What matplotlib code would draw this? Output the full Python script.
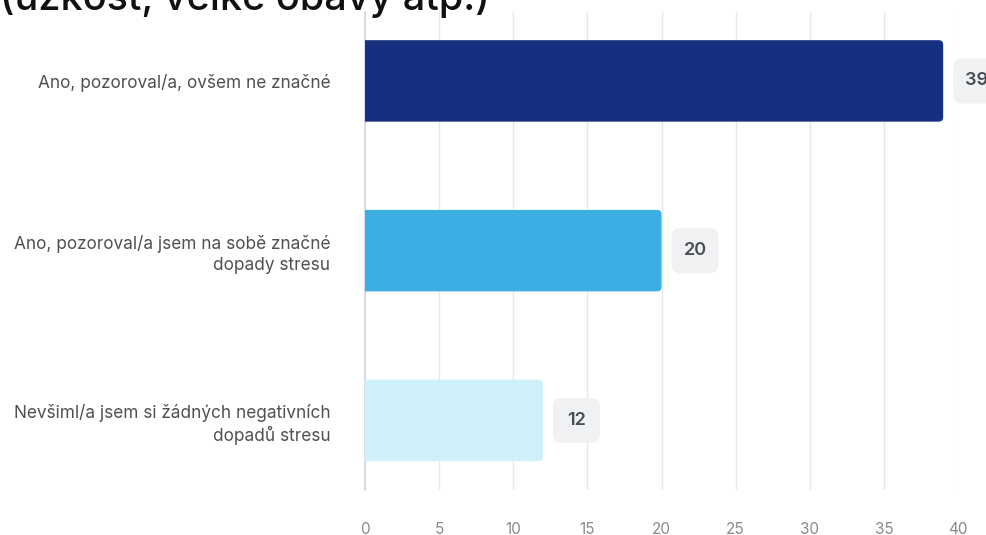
import matplotlib.pyplot as plt
from matplotlib.patches import FancyBboxPatch

plt.rcParams['font.family'] = ['Inter', 'DejaVu Sans']

# data
categories = [
    "Ano, pozoroval/a, ovšem ne značné",
    "Ano, pozoroval/a jsem na sobě značné\ndopady stresu",
    "Nevšiml/a jsem si žádných negativních\ndopadů stresu",
]
values = [39, 20, 12]
bar_colors = ["#14307f", "#3caee4", "#cdf0f9"]
xticks = [0, 5, 10, 15, 20, 25, 30, 35, 40]

fig = plt.figure(figsize=(9.86, 5.35), dpi=100)
ax = fig.add_axes([365 / 986, 1 - 490 / 535, (958 - 365) / 986, 478 / 535])

ax.set_xlim(0, 40)
ax.set_ylim(2.41, -0.406)

bar_h = 0.48
# pixels per data unit on each axis, for round corners
px_x = (958 - 365) / 40
px_y = 170
for i, (v, c) in enumerate(zip(values, bar_colors)):
    # starts left of 0 so the axes clip hides the left corners
    ax.add_patch(FancyBboxPatch((-1, i - bar_h / 2), v + 1, bar_h,
                                boxstyle="round,pad=0,rounding_size=0.3",
                                mutation_aspect=px_x / px_y,
                                fc=c, ec="none", zorder=3))
    # value badge
    bx = v + 10 / px_x
    bw = 47 / px_x
    bh = 45 / px_y
    ax.add_patch(FancyBboxPatch((bx, i - bh / 2), bw, bh,
                                boxstyle="round,pad=0,rounding_size=0.6",
                                mutation_aspect=px_x / px_y,
                                fc="#f0f1f3", ec="none", zorder=3, clip_on=False))
    ax.text(bx + bw / 2, i, str(v), ha="center", va="center", fontsize=13,
            fontweight="semibold", color="#4a4d55", zorder=4, clip_on=False)

ax.set_yticks(range(len(categories)))
ax.set_yticklabels(categories, fontsize=12.4, color="#505050", ha="right",
                   multialignment="right", linespacing=1.3)
ax.tick_params(axis="y", length=0, pad=25)

ax.set_xticks(xticks)
ax.set_xticklabels([str(t) for t in xticks], fontsize=11, color="#8a8a8a")
ax.tick_params(axis="x", length=0, pad=23)

ax.grid(axis="x", color="#e8e8ea", linewidth=1, zorder=0)
for s in ["top", "right", "bottom"]:
    ax.spines[s].set_visible(False)
ax.spines["left"].set_color("#d3d5e2")
ax.spines["left"].set_linewidth(1.2)
ax.spines["left"].set_zorder(2)

fig.text(0, 1 - 10 / 535, "(úzkost, velké obavy atp.)", ha="left", va="baseline",
         fontsize=28.5, fontweight="medium", color="#111111")

fig.savefig("out.png", dpi=100)
